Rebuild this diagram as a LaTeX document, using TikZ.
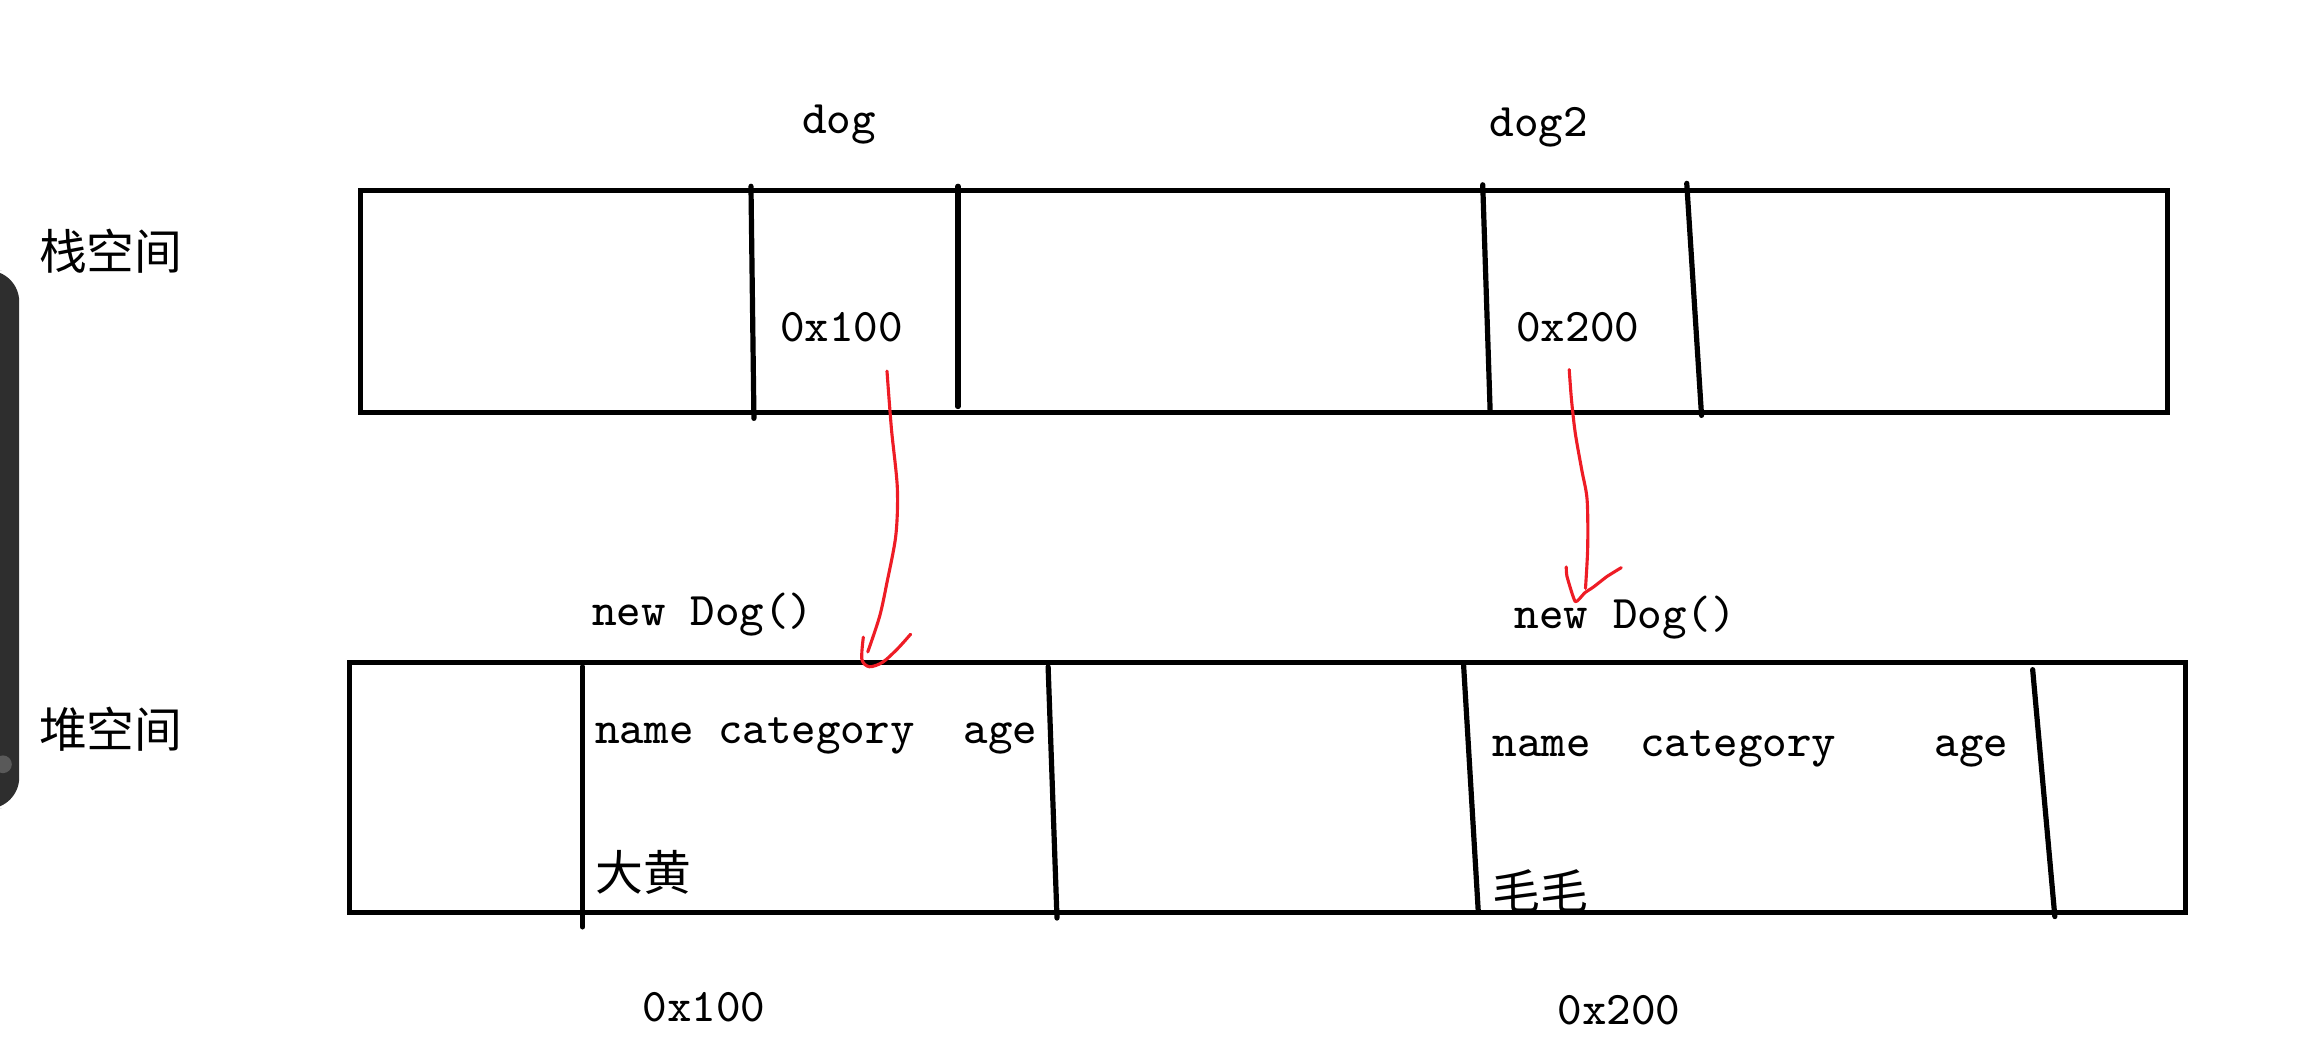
\documentclass[tikz,border=0pt]{standalone}
\usepackage{fontspec}
\newfontfamily\cjk{Noto Sans CJK SC}
\definecolor{pen}{HTML}{EE1C25}
\definecolor{barc}{HTML}{2E2E2E}
\begin{document}
\begin{tikzpicture}[x=0.01cm,y=-0.01cm,
  boxst/.style={draw=black,line width=1.0pt,rectangle,inner sep=0pt,outer sep=0pt},
  divst/.style={draw=black,line width=1.0pt,line cap=round},
  lbl/.style={font=\ttfamily\fontsize{9}{10}\selectfont,inner sep=0pt,anchor=base west},
  cjklbl/.style={font=\cjk\fontsize{9.2}{10}\selectfont,inner sep=0pt},
  redline/.style={draw=pen,line width=0.6pt,line cap=round,line join=round}]
\useasboundingbox (0,0) rectangle (1568,715);
% left UI bar
\fill[barc,rounded corners=6] (-20,183) rectangle (13,547);
\fill[black!65] (2,517) circle (6);
% boxes
\node[boxst,minimum width=12.22cm,minimum height=1.5cm] (stack) at (855,204) {};
\node[boxst,minimum width=12.41cm,minimum height=1.69cm] (heap) at (857.5,532.5) {};
% stack dividers
\draw[divst] (508,126) -- (510,283);
\draw[divst] (648,126) -- (648,275);
\draw[divst] (1003,125) -- (1008,278);
\draw[divst] (1141,124) -- (1151,281);
% heap dividers
\draw[divst] (394,451) -- (394,627);
\draw[divst] (709,451) -- (715,621);
\draw[divst] (990,449) -- (1000,617);
\draw[divst] (1375,453) -- (1390,620);
% side labels
\node[cjklbl] (stacklbl) at (75,170) {栈空间};
\node[cjklbl] (heaplbl) at (75,493) {堆空间};
% stack labels
\node[lbl] (dog) at (542,90) {dog};
\node[lbl] (dogtwo) at (1007,92) {dog2};
\node[lbl] (ref1) at (527,231) {0x100};
\node[lbl] (ref2) at (1025,231) {0x200};
% heap labels
\node[lbl] (new1) at (400,423) {new Dog()};
\node[lbl] (new2) at (1024,425) {new Dog()};
\node[lbl] (fields1) at (402,503) {name category\ \ age};
\node[lbl] (fields2) at (1009,512) {name\ \ category\ \ \ \ age};
\node[cjklbl] (val1) at (435,590) {大黄};
\node[cjklbl] (val2) at (1042,603) {毛毛};
\node[lbl] (addr1) at (434,691) {0x100};
\node[lbl] (addr2) at (1053,693) {0x200};
% red hand-drawn arrows
\draw[redline] plot[smooth] coordinates {(600,251) (603,290) (607,330) (606,362) (600,394) (595,417) (587,441)};
\draw[redline] plot[smooth] coordinates {(584,431) (583,446) (588,451) (597,448) (607,439) (616,429)};
\draw[redline] plot[smooth] coordinates {(1061.5,250) (1063,270) (1065.6,293) (1070,318) (1073.6,338) (1074,370) (1072.5,398)};
\draw[redline] plot[smooth,tension=0.3] coordinates {(1059.5,383.5) (1060,390) (1065.6,407) (1072,401) (1078,397) (1087,390) (1096.7,384)};
\end{tikzpicture}
\end{document}
